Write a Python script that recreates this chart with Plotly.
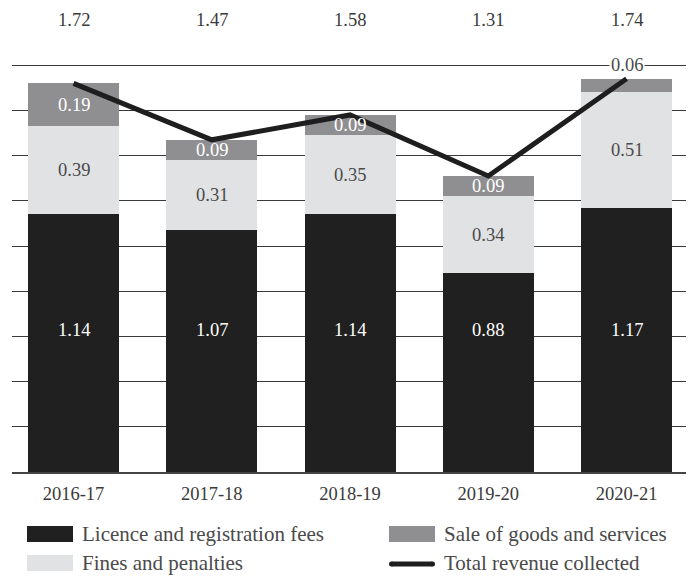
import plotly.graph_objects as go

# ---- data ----
years = ["2016-17", "2017-18", "2018-19", "2019-20", "2020-21"]
licence = [1.14, 1.07, 1.14, 0.88, 1.17]
fines = [0.39, 0.31, 0.35, 0.34, 0.51]
sales = [0.19, 0.09, 0.09, 0.09, 0.06]
totals = [1.72, 1.47, 1.58, 1.31, 1.74]

series_names = ["Licence and registration fees", "Fines and penalties",
                "Sale of goods and services", "Total revenue collected"]

# ---- style ----
FONT = "Liberation Serif"
C_LIC = "#202020"
C_FIN = "#e1e2e4"
C_SAL = "#8f8f92"
C_LINE = "#1e1e1e"
W, H = 689, 585
ML, MR, MT, MB = 12, 3, 63, 113
YMAX = 1.81
BAR_W = 0.658

x = list(range(len(years)))

fig = go.Figure()
fig.add_bar(x=x, y=licence, marker=dict(color=C_LIC, line_width=0), width=BAR_W,
            name=series_names[0], showlegend=False)
fig.add_bar(x=x, y=fines, marker=dict(color=C_FIN, line_width=0), width=BAR_W,
            name=series_names[1], showlegend=False)
fig.add_bar(x=x, y=sales, marker=dict(color=C_SAL, line_width=0), width=BAR_W,
            name=series_names[2], showlegend=False)
fig.add_scatter(x=x, y=totals, mode="lines", line=dict(color=C_LINE, width=5),
                name=series_names[3], showlegend=False)

ann = []
# segment labels
for i in x:
    # licence labels sit at a common height inside the black bars
    ann.append(dict(x=i, y=0.63, xref="x", yref="y", text=f"{licence[i]:.2f}",
                    showarrow=False, font=dict(family=FONT, size=18.5, color="white")))
    ann.append(dict(x=i, y=licence[i] + fines[i] / 2, xref="x", yref="y",
                    text=f"{fines[i]:.2f}", showarrow=False,
                    font=dict(family=FONT, size=18.5, color="#4a4a4a")))
    if sales[i] >= 0.08:
        ann.append(dict(x=i, y=licence[i] + fines[i] + sales[i] / 2, xref="x", yref="y",
                        text=f"{sales[i]:.2f}", showarrow=False,
                        font=dict(family=FONT, size=18.5, color="white")))
    else:
        ann.append(dict(x=i, y=1.8, xref="x", yref="y", text=f"{sales[i]:.2f}",
                        showarrow=False, bgcolor="white", borderpad=1,
                        font=dict(family=FONT, size=18.5, color="#4a4a4a")))
    # totals along the top
    ann.append(dict(x=i, y=1.105, xref="x", yref="paper", text=f"{totals[i]:.2f}",
                    showarrow=False, yanchor="middle",
                    font=dict(family=FONT, size=18.5, color="#3a3a3a")))

# ---- hand-drawn legend ----
pw = W - ML - MR
ph = H - MT - MB
def px2x(p):
    return (p - ML) / pw
def px2y(p):
    return (H - MB - p) / ph

shapes = []
leg = [
    (27, 534, "rect", C_LIC, series_names[0]),
    (27, 563, "rect", C_FIN, series_names[1]),
    (389, 534, "rect", C_SAL, series_names[2]),
    (389, 563, "line", C_LINE, series_names[3]),
]
for (lx, ly, kind, col, label) in leg:
    if kind == "rect":
        shapes.append(dict(type="rect", xref="paper", yref="paper",
                           x0=px2x(lx), x1=px2x(lx + 46), y0=px2y(ly - 8), y1=px2y(ly + 8),
                           fillcolor=col, line_width=0, layer="above"))
    else:
        shapes.append(dict(type="line", xref="paper", yref="paper",
                           x0=px2x(lx + 2.5), x1=px2x(lx + 43.5), y0=px2y(ly + 1), y1=px2y(ly + 1),
                           line=dict(color=col, width=5), layer="above"))
        for cx in (lx + 2.5, lx + 43.5):
            shapes.append(dict(type="circle", xref="paper", yref="paper",
                               xsizemode="pixel", ysizemode="pixel",
                               xanchor=px2x(cx), yanchor=px2y(ly + 1),
                               x0=-2.5, x1=2.5, y0=-2.5, y1=2.5,
                               fillcolor=col, line_width=0, layer="above"))
    ann.append(dict(x=px2x(lx + 53), y=px2y(ly), xref="paper", yref="paper",
                    text=label, showarrow=False, xanchor="left", yanchor="middle",
                    font=dict(family=FONT, size=21, color="#4a4a4a")))

fig.update_layout(
    width=W, height=H,
    margin=dict(l=ML, r=MR, t=MT, b=MB),
    barmode="stack",
    bargap=0,
    plot_bgcolor="white", paper_bgcolor="white",
    showlegend=False,
    annotations=ann,
    shapes=shapes,
    font=dict(family=FONT),
)
fig.update_xaxes(
    range=[-0.445, 4.43],
    tickmode="array", tickvals=x, ticktext=years,
    tickfont=dict(family=FONT, size=18.5, color="#3a3a3a"),
    showgrid=False, zeroline=False,
    showline=True, linecolor="#444444", linewidth=1.5,
    ticks="outside", ticklen=4, tickcolor="white",
)
fig.update_yaxes(
    range=[0, YMAX], dtick=0.2, tick0=0,
    showticklabels=False, showgrid=True, gridcolor="#3a3a3a", gridwidth=1.4,
    zeroline=False, showline=False,
)

fig.write_html("out.html")
